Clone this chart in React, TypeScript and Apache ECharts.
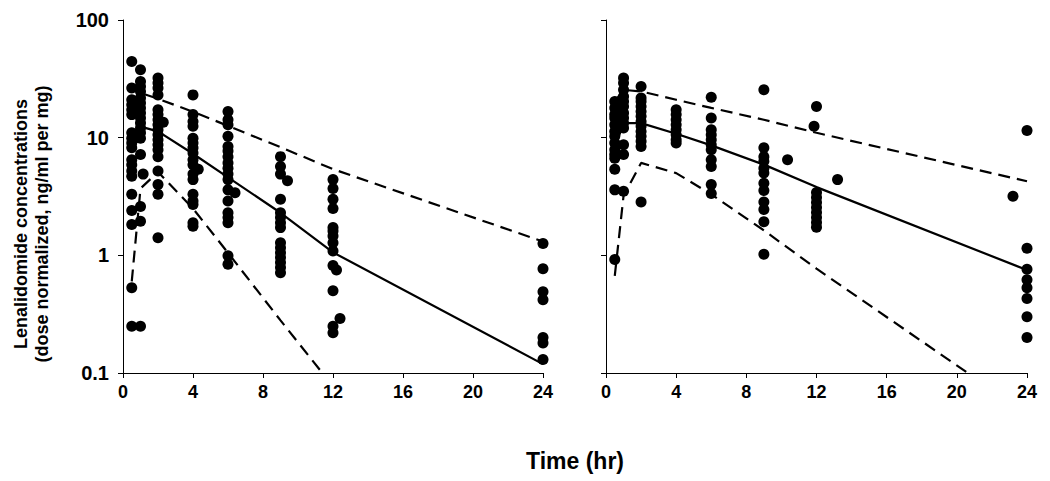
import React, { useEffect, useRef } from "react";
import * as echarts from "echarts";

// Nominal sampling times for the model-predicted lines
const lineTimes = [0.5, 1, 2, 4, 6, 9, 12, 24];

// Left panel: predicted median, 95th and 5th percentiles
const leftMedian = [7.5, 12.4, 11.3, 7.3, 4.6, 2.3, 1.06, 0.119];
const leftP95 = [19, 24, 21.4, 16.6, 12.6, 8.3, 5.4, 1.31];
const leftP5: (number | null)[] = [0.6, 3.7, 5.1, 2.5, 1.05, 0.28, 0.077, null];

// Right panel: predicted median, 95th and 5th percentiles
const rightMedian = [8.2, 13.3, 13.3, 10.8, 8.6, 5.9, 3.8, 0.75];
const rightP95 = [20.3, 25.5, 24.7, 21.0, 17.9, 14.2, 11.0, 4.26];
const rightP5 = [0.67, 3.2, 6.1, 5.0, 3.3, 1.63, 0.77, 0.045];

// Observed concentrations, left panel: [time (hr), concentration]
const leftObs: [number, number][] = [
  ...[44.3, 26.4, 21.0, 19.0, 17.3, 15.7, 11.0, 9.9, 9.0, 8.2, 6.5, 5.9, 5.2, 4.7, 3.3, 2.4, 1.83, 0.53, 0.25].map((c) => [0.5, c] as [number, number]),
  ...[37.7, 30.0, 27.2, 24.7, 21.7, 19.7, 17.9, 16.2, 14.7, 13.3, 12.1, 11.0, 9.9, 7.2, 2.6, 1.95, 0.25].map((c) => [1, c] as [number, number]),
  [1.15, 4.9],
  ...[32.1, 29.1, 26.4, 23.1, 17.3, 15.7, 14.2, 12.9, 11.7, 10.6, 9.6, 8.7, 7.9, 6.9, 5.2, 4.0, 3.3, 1.41].map((c) => [2, c] as [number, number]),
  [2.3, 13.5],
  ...[23.1, 15.7, 13.7, 12.5, 9.9, 9.0, 8.2, 7.4, 6.5, 5.9, 4.9, 4.4, 3.3, 2.9, 2.7, 1.89, 1.77].map((c) => [4, c] as [number, number]),
  [4.3, 5.4],
  ...[16.7, 14.2, 12.9, 10.3, 8.4, 7.7, 6.9, 6.1, 5.5, 4.9, 4.4, 3.6, 2.9, 2.3, 2.1, 1.89, 0.99, 0.84].map((c) => [6, c] as [number, number]),
  [6.4, 3.4],
  ...[6.9, 5.7, 4.9, 3.0, 2.3, 2.1, 1.89, 1.72, 1.28, 1.16, 1.05, 0.96, 0.87, 0.79, 0.71].map((c) => [9, c] as [number, number]),
  [9.4, 4.3],
  ...[4.4, 3.7, 3.0, 2.5, 1.72, 1.61, 1.46, 1.28, 1.09, 0.82, 0.5, 0.25, 0.22].map((c) => [12, c] as [number, number]),
  [12.2, 0.75],
  [12.4, 0.29],
  ...[1.26, 0.77, 0.49, 0.42, 0.2, 0.18, 0.13].map((c) => [24, c] as [number, number]),
];

// Observed concentrations, right panel: [time (hr), concentration]
const rightObs: [number, number][] = [
  ...[20.3, 17.9, 15.7, 14.7, 12.9, 11.3, 10.3, 9.0, 7.9, 7.2, 6.7, 5.4, 3.6, 0.92].map((c) => [0.5, c] as [number, number]),
  ...[32.1, 29.1, 25.5, 22.4, 20.3, 18.4, 16.2, 14.7, 13.3, 12.1, 8.7, 7.2, 3.5].map((c) => [1, c] as [number, number]),
  ...[27.2, 21.7, 20.3, 18.4, 16.7, 15.2, 13.7, 12.5, 11.3, 10.3, 9.3, 8.4, 2.84].map((c) => [2, c] as [number, number]),
  ...[17.3, 15.7, 14.2, 12.9, 11.7, 10.6, 9.6, 9.0].map((c) => [4, c] as [number, number]),
  ...[22.1, 14.7, 11.7, 10.6, 9.6, 8.7, 7.9, 6.5, 5.7, 4.0, 3.35].map((c) => [6, c] as [number, number]),
  ...[25.5, 8.2, 6.9, 6.3, 5.5, 5.0, 4.1, 3.55, 2.84, 2.45, 1.93, 1.02].map((c) => [9, c] as [number, number]),
  [10.35, 6.5],
  [11.86, 12.5],
  ...[18.4, 3.42, 3.1, 2.81, 2.55, 2.31, 2.1, 1.9, 1.73].map((c) => [12, c] as [number, number]),
  [13.2, 4.4],
  [23.2, 3.18],
  ...[11.5, 1.15, 0.76, 0.62, 0.53, 0.43, 0.3, 0.2].map((c) => [24, c] as [number, number]),
];

const xTicks = [0, 4, 8, 12, 16, 20, 24];
const yTitle1 = "Lenalidomide concentrations";
const yTitle2 = "(dose normalized, ng/ml per mg)";
const xTitle = "Time (hr)";

const FONT = "'Liberation Sans', Arial, Helvetica, sans-serif";

function pairs(ts: number[], vs: (number | null)[]) {
  return ts.map((t, i) => [t, vs[i]]);
}

export default function App() {
  const ref = useRef<HTMLDivElement>(null);
  useEffect(() => {
    if (!ref.current) return;
    const chart = echarts.init(ref.current, undefined, { renderer: "svg" });
    const xAxisBase = (gridIndex: number) => ({
      type: "value" as const,
      gridIndex,
      min: xTicks[0],
      max: xTicks[xTicks.length - 1],
      interval: 4,
      axisLine: { show: true, onZero: false, lineStyle: { color: "#000", width: 1 } },
      axisTick: { show: true, inside: false, length: 5, lineStyle: { color: "#000" } },
      axisLabel: { color: "#000", fontFamily: FONT, fontWeight: "bold", fontSize: 18, margin: 10 },
      splitLine: { show: false },
    });
    const yAxisBase = (gridIndex: number, showLabel: boolean) => ({
      type: "log" as const,
      gridIndex,
      logBase: 10,
      min: 0.1,
      max: 100,
      axisLine: { show: true, lineStyle: { color: "#000", width: 1 } },
      axisTick: { show: true, inside: false, length: 5, lineStyle: { color: "#000" } },
      axisLabel: {
        show: showLabel,
        color: "#000",
        fontFamily: FONT,
        fontWeight: "bold",
        fontSize: 20,
        margin: 14,
        formatter: (v: number) => (v < 1 ? v.toFixed(1) : String(Math.round(v))),
      },
      minorTick: { show: false },
      splitLine: { show: false },
    });
    const scatter = (idx: number, data: [number, number][]) => ({
      type: "scatter" as const,
      xAxisIndex: idx,
      yAxisIndex: idx,
      data,
      symbol: "circle",
      symbolSize: 11,
      itemStyle: { color: "#000", opacity: 1 },
      emphasis: { disabled: true },
      z: 2,
    });
    const line = (idx: number, data: any[], dashed: boolean) => ({
      type: "line" as const,
      xAxisIndex: idx,
      yAxisIndex: idx,
      data,
      showSymbol: false,
      symbol: "none",
      clip: true,
      connectNulls: false,
      lineStyle: { color: "#000", width: 2.2, type: dashed ? [12, 7] : "solid" },
      z: 3,
    });
    const titleStyle = (text: string, size: number) => ({
      text,
      font: `bold ${size}px ${FONT}`,
      fill: "#000",
      textAlign: "center",
      textVerticalAlign: "middle",
      align: "center",
      verticalAlign: "middle",
    });
    chart.setOption({
      animation: false,
      backgroundColor: "#fff",
      grid: [
        { left: 123, top: 20, width: 420, height: 353, containLabel: false },
        { left: 606, top: 20, width: 421, height: 353, containLabel: false },
      ],
      xAxis: [xAxisBase(0), xAxisBase(1)],
      yAxis: [yAxisBase(0, true), yAxisBase(1, false)],
      series: [
        scatter(0, leftObs),
        scatter(1, rightObs),
        line(0, pairs(lineTimes, leftMedian), false),
        line(0, pairs(lineTimes, leftP95), true),
        line(0, pairs(lineTimes, leftP5), true),
        line(1, pairs(lineTimes, rightMedian), false),
        line(1, pairs(lineTimes, rightP95), true),
        line(1, pairs(lineTimes, rightP5), true),
      ],
      graphic: [
        { type: "text", x: 21, y: 224, rotation: Math.PI / 2, style: titleStyle(yTitle1, 18) },
        { type: "text", x: 42, y: 224, rotation: Math.PI / 2, style: titleStyle(yTitle2, 18) },
        { type: "text", x: 575, y: 461, style: titleStyle(xTitle, 23) },
      ],
    });
    return () => chart.dispose();
  }, []);
  return (
    <div
      ref={ref}
      style={{ position: "fixed", left: 0, top: 0, width: 1050, height: 481, background: "#fff" }}
    />
  );
}
